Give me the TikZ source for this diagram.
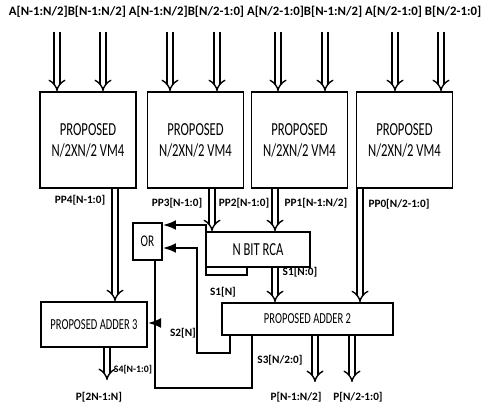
\documentclass[tikz,border=0pt]{standalone}
\usepackage{fontspec}
\setmainfont{Carlito}
\usetikzlibrary{arrows.meta}
\newcommand{\talltext}[1]{\scalebox{1}[1.45]{#1}}

\tikzset{
  vmbox/.style={draw, line width=1.3pt, minimum width=2.4cm, minimum height=2.4cm,
    align=center, font=\fontsize{9}{15}\selectfont},
  addbox/.style={draw, line width=1.3pt, align=center, font=\fontsize{7.5}{9}\selectfont},
  bus/.style={double, double distance=3.2pt, line width=1pt, -{Implies}},
  wire/.style={line width=1.4pt},
  lbl/.style={font=\fontsize{8}{9}\selectfont\bfseries, inner sep=0pt},
}

\begin{document}
\begin{tikzpicture}[x=0.025cm,y=-0.025cm,line join=miter]
    \useasboundingbox (0,0) rectangle (488,408);

    % Entradas
    \node[lbl, font=\fontsize{9.1}{10}\selectfont\bfseries] (inp) at (245,12)
      {A[N-1:N/2]B[N-1:N/2] A[N-1:N/2]B[N/2-1:0] A[N/2-1:0]B[N-1:N/2] A[N/2-1:0] B[N/2-1:0]};

    % Multiplicadores
    \node[vmbox] (m1) at (88,140)    {\talltext{PROPOSED}\\\talltext{N/2XN/2 VM4}};
    \node[vmbox] (m2) at (195.5,140) {\talltext{PROPOSED}\\\talltext{N/2XN/2 VM4}};
    \node[vmbox] (m3) at (299.5,140) {\talltext{PROPOSED}\\\talltext{N/2XN/2 VM4}};
    \node[vmbox] (m4) at (404.5,140) {\talltext{PROPOSED}\\\talltext{N/2XN/2 VM4}};

    \foreach \x/\m in {57/m1,103/m1,170/m2,217/m2,278/m3,325/m3,395/m4,441/m4} {
        \coordinate (i\x) at (\x,32);
        \draw[bus] (i\x) -- (i\x |- \m.north);
    }

    % Sumadores
    \node[addbox, minimum width=2.6cm, minimum height=0.875cm,
      font=\fontsize{9}{9}\selectfont] (rca) at (258,249.5) {\talltext{N BIT RCA}};
    \node[addbox, minimum width=0.725cm, minimum height=0.925cm,
      font=\fontsize{8}{9}\selectfont] (or) at (147.5,241.5) {\talltext{OR}};
    \node[addbox, minimum width=2.65cm, minimum height=1.125cm] (a3) at (94,324.5)
      {\talltext{PROPOSED ADDER 3}};
    \node[addbox, minimum width=4.275cm, minimum height=0.8cm] (a2) at (307.5,319)
      {\talltext{PROPOSED ADDER 2}};

    % Productos parciales
    \draw[bus] (m1.south -| 115,0) -- (a3.north -| 115,0);
    \draw[bus] (m2.south -| 212,0) -- (rca.north -| 212,0);
    \draw[bus] (m3.south -| 275,0) -- (rca.north -| 275,0);
    \draw[bus] (m4.south -| 360,0) -- (a2.north -| 360,0);
    \draw[bus] (rca.south -| 275,0) -- (a2.north -| 275,0);

    \node[lbl] at (80,200)  {PP4[N-1:0]};
    \node[lbl] at (177,203) {PP3[N-1:0]};
    \node[lbl] at (244,203) {PP2[N-1:0]};
    \node[lbl] at (316,203) {PP1[N-1:N/2]};
    \node[lbl] at (399,204) {PP0[N/2-1:0]};
    \node[lbl] at (300,272) {S1[N:0]};
    \node[lbl] at (223,292) {S1[N]};

    % Acarreos
    \draw[wire,-Latex] (rca.south -| 247,0) -- (247,275) -- (206,275) -- (206,225) -- (or.east |- 0,225);
    \draw[wire,-Latex] (a2.south -| 230,0) -- (230,353) -- (197,353) -- (197,248) -- (or.east |- 0,248);
    \draw[wire] (or.south -| 155,0) -- (155,388) -- (252,388) -- (a2.south -| 252,0);
    \draw[wire,-Latex] (155,323) -- (a3.east |- 0,323);
    \node[lbl] at (183,333) {S2[N]};
    \node[lbl] at (280,360) {S3[N/2:0]};

    % Salidas
    \coordinate (p1) at (107,380);
    \coordinate (p2) at (315,382);
    \coordinate (p3) at (352,382);
    \draw[bus] (a3.south -| p1) -- (p1);
    \draw[bus] (a2.south -| p2) -- (p2);
    \draw[bus] (a2.south -| p3) -- (p3);
    \node[lbl, font=\fontsize{7}{8}\selectfont\bfseries] at (133,370) {S4[N-1:0]};
    \node[lbl] at (99,397)  {P[2N-1:N]};
    \node[lbl] at (296,397) {P[N-1:N/2]};
    \node[lbl] at (358,397) {P[N/2-1:0]};
\end{tikzpicture}
\end{document}
